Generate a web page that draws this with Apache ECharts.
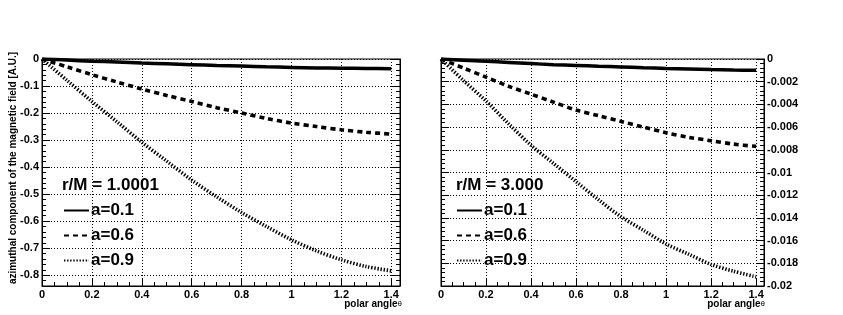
<!DOCTYPE html>
<html><head><meta charset="utf-8">
<script src="https://cdn.jsdelivr.net/npm/echarts@6/dist/echarts.min.js"></script>
<style>html,body{margin:0;padding:0;background:#fff}#c{width:843px;height:315px}</style>
</head><body><div id="c"></div><script>
// polar angle samples
const theta = [0, 0.1, 0.2, 0.3, 0.4, 0.5, 0.6, 0.7, 0.8, 0.9, 1.0, 1.1, 1.2, 1.3, 1.4];
// left panel r/M = 1.0001
const leftA01 = [0, -0.004, -0.008, -0.011, -0.015, -0.018, -0.021, -0.024, -0.026, -0.029, -0.031, -0.033, -0.034, -0.035, -0.036];
const leftA06 = [0, -0.029, -0.058, -0.085, -0.111, -0.135, -0.157, -0.180, -0.200, -0.220, -0.237, -0.250, -0.262, -0.271, -0.278];
const leftA09 = [0, -0.079, -0.157, -0.232, -0.308, -0.378, -0.448, -0.510, -0.568, -0.620, -0.669, -0.710, -0.743, -0.768, -0.784];
// right panel r/M = 3.000
const rightA01 = [0, -0.0001, -0.0002, -0.0003, -0.0004, -0.0005, -0.00057, -0.00064, -0.0007, -0.00077, -0.00083, -0.00088, -0.00093, -0.00097, -0.001];
const rightA06 = [0, -0.0008, -0.0016, -0.0024, -0.0031, -0.0038, -0.0045, -0.0050, -0.0055, -0.0060, -0.0065, -0.0069, -0.0072, -0.0075, -0.0077];
const rightA09 = [0, -0.0019, -0.0037, -0.0057, -0.0076, -0.0092, -0.0108, -0.0124, -0.0139, -0.0151, -0.0163, -0.0172, -0.0181, -0.0187, -0.0192];
// tick labels of the left panel's y axis
const leftYTicks = [-0.8, -0.7, -0.6, -0.5, -0.4, -0.3, -0.2, -0.1, 0];
const seriesNames = ['a=0.1', 'a=0.6', 'a=0.9'];
const panelTitles = ['r/M = 1.0001', 'r/M = 3.000'];
const xTitle = 'polar angle';
const yTitle = 'azimuthal component of the magnetic field [A.U.]';

const FONT = '"Liberation Sans", Arial, Helvetica, sans-serif';
const pairs = arr => arr.map((v, i) => [theta[i], v]);
const styles = [
  {type: 'solid', width: 3.5},
  {type: [5, 4], width: 3.6},
  {type: [1.4, 1.7], width: 3.6}
];
const LABEL = {color: '#000', fontFamily: FONT, fontWeight: 'bold', fontSize: 11, margin: 3};
const GRIDLINE = {color: '#000', type: [1, 2], width: 1};
function xAx(grid) {
  return {
    type: 'value', gridIndex: grid, min: 0, max: 1.435, interval: 0.2,
    axisLine: {onZero: false, lineStyle: {color: '#000', width: 1}},
    axisTick: {inside: true, length: 8, lineStyle: {color: '#000'}},
    minorTick: {show: true, splitNumber: 4, length: 4, lineStyle: {color: '#000'}},
    axisLabel: Object.assign({showMaxLabel: false}, LABEL),
    splitLine: {show: true, lineStyle: GRIDLINE}
  };
}
// left panel: major ticks / labels at fixed values
function leftMajor(pos, labels) {
  return {
    type: 'value', gridIndex: 0, position: pos, min: -0.84, max: 0,
    axisLine: {show: true, onZero: false, lineStyle: {color: '#000', width: 1}},
    axisTick: {show: true, inside: true, length: 8, customValues: leftYTicks, lineStyle: {color: '#000'}},
    axisLabel: Object.assign({show: labels, customValues: leftYTicks}, LABEL),
    splitLine: {show: labels, lineStyle: GRIDLINE}
  };
}
// left panel: minor ticks every 0.02
function leftMinor(pos) {
  return {
    type: 'value', gridIndex: 0, position: pos, min: -0.84, max: 0, interval: 0.02,
    axisLine: {show: false, onZero: false},
    axisTick: {show: true, inside: true, length: 4, lineStyle: {color: '#000'}},
    axisLabel: {show: false}, splitLine: {show: false}
  };
}
function rightY(pos, labels) {
  return {
    type: 'value', gridIndex: 1, position: pos, min: -0.02, max: 0, interval: 0.002,
    axisLine: {show: true, onZero: false, lineStyle: {color: '#000', width: 1}},
    axisTick: {show: true, inside: true, length: 8, lineStyle: {color: '#000'}},
    minorTick: {show: true, splitNumber: 5, length: 4, lineStyle: {color: '#000'}},
    axisLabel: Object.assign({show: labels, showMinLabel: true, showMaxLabel: true}, LABEL),
    splitLine: {show: labels, lineStyle: GRIDLINE}
  };
}
const leftData = [leftA01, leftA06, leftA09];
const rightData = [rightA01, rightA06, rightA09];
const series = [];
leftData.forEach((d, i) => series.push({
  name: seriesNames[i], type: 'line', xAxisIndex: 0, yAxisIndex: 0, data: pairs(d),
  symbol: 'none', smooth: 0.3,
  lineStyle: Object.assign({color: '#000'}, styles[i]), itemStyle: {color: 'rgba(0,0,0,0)'}
}));
rightData.forEach((d, i) => series.push({
  name: seriesNames[i], type: 'line', xAxisIndex: 1, yAxisIndex: 4, data: pairs(d),
  symbol: 'none', smooth: 0.3,
  lineStyle: Object.assign({color: '#000'}, styles[i]), itemStyle: {color: 'rgba(0,0,0,0)'}
}));
function legend(left) {
  return {
    data: seriesNames, orient: 'vertical', left: left, top: 202, padding: 0,
    itemWidth: 25, itemHeight: 16, itemGap: 8, selectedMode: false,
    itemStyle: {color: 'rgba(0,0,0,0)', borderWidth: 0},
    textStyle: {color: '#000', fontFamily: FONT, fontWeight: 'bold', fontSize: 17, lineHeight: 16, padding: [0, 0, 0, -3]}
  };
}
function xTitleText(right) {
  return {
    type: 'text', x: right, y: 304,
    style: {
      text: '{a|' + xTitle + '}{b|θ}', align: 'right', verticalAlign: 'middle',
      rich: {
        a: {fontFamily: FONT, fontWeight: 'bold', fontSize: 10, fill: '#000'},
        b: {fontFamily: FONT, fontSize: 8, fill: '#000'}
      }
    }
  };
}
function header(x, t) {
  return {type: 'text', x: x, y: 185, style: {text: t, fontFamily: FONT, fontWeight: 'bold', fontSize: 17, fill: '#000', align: 'left', verticalAlign: 'middle'}};
}
const chart = echarts.init(document.getElementById('c'), null, {renderer: 'canvas'});
chart.setOption({
  backgroundColor: '#fff',
  animation: false,
  grid: [
    {left: 42, top: 59, width: 358, height: 227, show: true, borderColor: '#000', borderWidth: 1, backgroundColor: 'transparent'},
    {left: 441, top: 59, width: 323, height: 227, show: true, borderColor: '#000', borderWidth: 1, backgroundColor: 'transparent'}
  ],
  xAxis: [xAx(0), xAx(1)],
  yAxis: [
    leftMajor('left', true), leftMajor('right', false),
    leftMinor('left'), leftMinor('right'),
    rightY('right', true), rightY('left', false)
  ],
  legend: [legend(63), legend(456)],
  series: series,
  graphic: [
    {type: 'text', x: 13, y: 168, rotation: Math.PI / 2,
     style: {text: yTitle, fontFamily: FONT, fontWeight: 'bold', fontSize: 10, fill: '#000', align: 'center', verticalAlign: 'middle'}},
    xTitleText(402), xTitleText(765),
    header(62, panelTitles[0]), header(456, panelTitles[1])
  ]
});
</script></body></html>
